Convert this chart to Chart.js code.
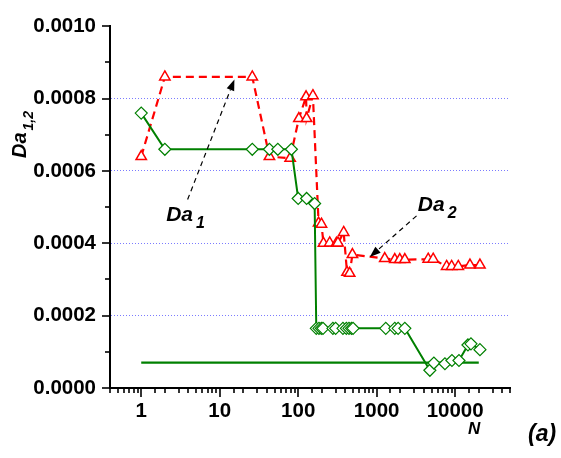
<!DOCTYPE html>
<html><head><meta charset="utf-8">
<script src="https://cdn.jsdelivr.net/npm/chart.js@4.4.1/dist/chart.umd.min.js"></script>
<style>html,body{margin:0;padding:0;background:#fff}</style>
</head><body>
<canvas id="c" width="561" height="458"></canvas>
<script>
// ---- data ----
const da1N = [1, 2, 26, 43, 55, 82, 100, 128, 162, 170, 184, 197, 207, 277, 300, 372, 411, 444, 477, 500, 1306, 1702, 1876, 2285, 4764, 5360, 7410, 9100, 11190, 14560, 15900, 20700];
const da1 = [0.00076, 0.00066, 0.00066, 0.00066, 0.00066, 0.00066, 0.000524, 0.000524, 0.00051,
  0.000165, 0.000165, 0.000165, 0.000165, 0.000165, 0.000165, 0.000165, 0.000165, 0.000165, 0.000165, 0.000165,
  0.000165, 0.000165, 0.000165, 0.000165, 0.000049, 0.000069, 0.000067, 0.000076, 0.000076, 0.000119, 0.000122, 0.000106];
const da2N = [1, 2, 26, 43, 79, 102, 126, 128, 154, 182, 198, 210, 252, 307, 321, 380, 419, 453, 491, 1268, 1702, 1972, 2285, 4536, 5250, 7790, 9020, 10960, 15450, 20700];
const da2 = [0.00064, 0.00086, 0.00086, 0.00064, 0.000635, 0.000745, 0.000805, 0.000745, 0.000808, 0.000456, 0.000453,
  0.0004, 0.000401, 0.0004, 0.000401, 0.00043, 0.00032, 0.000317, 0.000369, 0.000358, 0.000355, 0.000355, 0.000355,
  0.000356, 0.000356, 0.000336, 0.000336, 0.000336, 0.00034, 0.00034];
const refLineN = [1, 20000];
const refLine = [0.00007, 0.00007];
const xTickLabels = [1, 10, 100, 1000, 10000];
const yTickLabels = ['0.0000', '0.0002', '0.0004', '0.0006', '0.0008', '0.0010'];
const yGridValues = [0.0002, 0.0004, 0.0006, 0.0008];

const pts = (xs, ys) => xs.map((x, i) => ({x, y: ys[i]}));
const GREEN = 'rgb(0,128,0)', RED = 'rgb(255,0,0)';
const FONT = '"Liberation Sans", Arial, sans-serif';

// annotation placement (data coordinates)
const notes = [
  {text: 'Da', sub: '1', at: [2.08, 0.000462], from: [3.9, 0.000521], to: [15.4, 0.000853]},
  {text: 'Da', sub: '2', at: [3350, 0.000488], from: [3222, 0.000476], to: [817, 0.000362]}
];

const extras = {
  id: 'extras',
  afterDraw(chart) {
    const ctx = chart.ctx, xs = chart.scales.x, ys = chart.scales.y;
    ctx.save();
    ctx.strokeStyle = '#000'; ctx.lineWidth = 1.6; ctx.setLineDash([]);
    xs.ticks.forEach(t => {
      const p = Math.round(xs.getPixelForValue(t.value));
      const major = xTickLabels.includes(t.value);
      ctx.beginPath(); ctx.moveTo(p, xs.top); ctx.lineTo(p, xs.top + (major ? 9 : 5)); ctx.stroke();
    });
    ys.ticks.forEach(t => {
      const p = Math.round(ys.getPixelForValue(t.value));
      const major = Math.round(t.value * 1e4) % 2 === 0;
      ctx.beginPath(); ctx.moveTo(ys.right, p); ctx.lineTo(ys.right - (major ? 8 : 5), p); ctx.stroke();
    });
    notes.forEach(n => {
      const fx = xs.getPixelForValue(n.from[0]), fy = ys.getPixelForValue(n.from[1]);
      const tx = xs.getPixelForValue(n.to[0]), ty = ys.getPixelForValue(n.to[1]);
      const ang = Math.atan2(ty - fy, tx - fx);
      const hl = 11, hw = 4;
      const bx = tx - hl * Math.cos(ang), by = ty - hl * Math.sin(ang);
      ctx.strokeStyle = '#000'; ctx.lineWidth = 1.2; ctx.setLineDash([5, 4]);
      ctx.beginPath(); ctx.moveTo(fx, fy); ctx.lineTo(bx, by); ctx.stroke();
      ctx.setLineDash([]);
      ctx.fillStyle = '#000';
      ctx.beginPath(); ctx.moveTo(tx, ty);
      ctx.lineTo(bx + hw * Math.sin(ang), by - hw * Math.cos(ang));
      ctx.lineTo(bx - hw * Math.sin(ang), by + hw * Math.cos(ang));
      ctx.closePath(); ctx.fill();
      const ax = xs.getPixelForValue(n.at[0]), ay = ys.getPixelForValue(n.at[1]);
      ctx.font = 'italic bold 21px ' + FONT; ctx.textBaseline = 'alphabetic'; ctx.textAlign = 'left';
      ctx.fillText(n.text, ax, ay);
      const w = ctx.measureText(n.text).width;
      ctx.font = 'italic bold 16px ' + FONT;
      ctx.fillText(n.sub, ax + w + 3, ay + 7);
    });
    ctx.save();
    ctx.translate(26, 158); ctx.rotate(-Math.PI / 2);
    ctx.font = 'italic bold 20px ' + FONT; ctx.fillStyle = '#000'; ctx.textAlign = 'left';
    ctx.fillText('Da', 0, 0);
    const w2 = ctx.measureText('Da').width;
    ctx.font = 'italic bold 14px ' + FONT;
    ctx.fillText('1,2', w2 + 2, 7);
    ctx.restore();
    ctx.fillStyle = '#000'; ctx.textAlign = 'left';
    ctx.font = 'italic bold 17px ' + FONT;
    ctx.fillText('N', 468, 434);
    ctx.font = 'italic bold 23px ' + FONT;
    ctx.fillText('(a)', 528, 441);
    ctx.restore();
  }
};

new Chart(document.getElementById('c'), {
  type: 'scatter',
  data: {
    datasets: [
      {label: 'Da1', data: pts(da1N, da1), showLine: true, borderColor: GREEN, borderWidth: 2,
       pointStyle: 'rectRot', pointRadius: 6, pointBorderColor: GREEN, pointBackgroundColor: '#fff', pointBorderWidth: 1.2},
      {label: 'ref', data: pts(refLineN, refLine), showLine: true, borderColor: GREEN, borderWidth: 2.2, pointRadius: 0},
      {label: 'Da2', data: pts(da2N, da2), showLine: true, borderColor: RED, borderWidth: 2.2, borderDash: [8, 5],
       pointStyle: 'triangle', pointRadius: 6, pointBorderColor: RED, pointBackgroundColor: '#fff', pointBorderWidth: 1.5}
    ]
  },
  options: {
    responsive: false, animation: false, devicePixelRatio: 1,
    layout: {padding: {top: 21, right: 51, left: 0, bottom: 0}},
    plugins: {legend: {display: false}, tooltip: {enabled: false}},
    scales: {
      x: {
        type: 'logarithmic', min: 0.4, max: 50000, position: 'bottom',
        afterFit: s => { s.height = 70; },
        grid: {display: false},
        border: {display: true, color: '#000', width: 2},
        ticks: {
          autoSkip: false, maxRotation: 0, padding: 3, color: '#000',
          font: {family: FONT, size: 20.5, weight: 'bold'},
          callback: v => xTickLabels.includes(v) ? String(v) : ''
        }
      },
      y: {
        type: 'linear', min: 0, max: 0.001,
        afterFit: s => { s.width = 110; },
        grid: {drawTicks: false, lineWidth: 1,
          color: c => yGridValues.some(g => Math.abs(g - c.tick.value) < 1e-9) ? 'rgba(100,100,255,0.85)' : 'rgba(0,0,0,0)'},
        border: {display: true, color: '#000', width: 2, dash: [1, 2]},
        ticks: {
          stepSize: 0.0001, padding: 14, color: '#000',
          font: {family: FONT, size: 20.5, weight: 'bold'},
          callback: v => { const k = Math.round(v * 1e4); return k % 2 === 0 ? yTickLabels[k / 2] : ''; }
        }
      }
    }
  },
  plugins: [extras]
});
</script>
</body></html>
